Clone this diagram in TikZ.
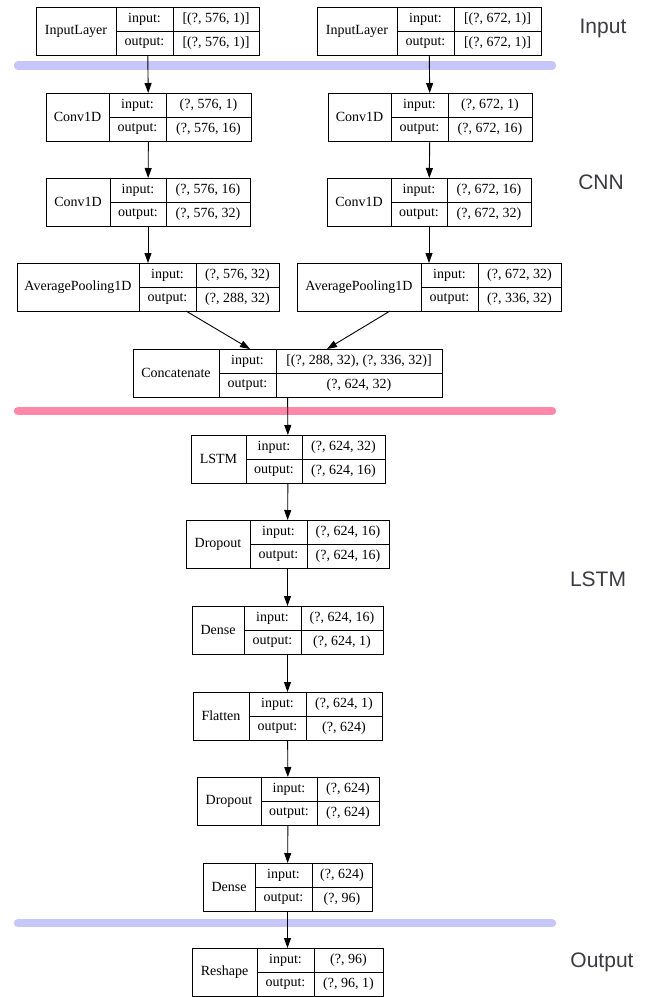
\documentclass[tikz,border=0pt]{standalone}
\usepackage{fontspec}
\setmainfont{Liberation Serif}
\newfontfamily\bandfont{Liberation Sans}
\usetikzlibrary{arrows.meta,calc}

\definecolor{barblue}{RGB}{198,198,250}
\definecolor{barpink}{RGB}{255,136,170}
\definecolor{bandgray}{RGB}{58,58,66}

\tikzset{
  box/.style={draw, line width=0.9pt, rectangle, inner sep=0pt, outer sep=0pt, minimum height=48pt},
  cell/.style={line width=0.9pt},
  txt/.style={inner sep=0pt, font=\fontsize{14}{16}\selectfont},
  flow/.style={line width=0.9pt, -{Triangle[length=10pt,width=7pt]}},
  bar/.style={line width=8.5pt, line cap=round},
  band/.style={inner sep=0pt, text=bandgray, font=\bandfont\fontsize{21}{25}\selectfont}
}

% #1 name, #2 left, #3 name|label divider, #4 label|value divider, #5 right,
% #6 top, #7 layer type, #8 input shape, #9 output shape
\newcommand\layerbox[9]{%
  \pgfmathsetmacro\lbW{#5-#2}%
  \node[box, minimum width=\lbW pt, anchor=north west] (#1) at (#2,#6) {};
  \draw[cell] (#3,#6) -- (#3,#6+48);
  \draw[cell] (#4,#6) -- (#4,#6+48);
  \draw[cell] (#3,#6+24) -- (#5,#6+24);
  \node[txt] (#1-name) at ({(#2+#3)/2},#6+24) {#7};
  \node[txt] (#1-il) at ({(#3+#4)/2},#6+12) {input:};
  \node[txt] (#1-ol) at ({(#3+#4)/2},#6+36) {output:};
  \node[txt] (#1-iv) at ({(#4+#5)/2},#6+12) {#8};
  \node[txt] (#1-ov) at ({(#4+#5)/2},#6+36) {#9};
}

\begin{document}
\begin{tikzpicture}[x=1pt, y=-1pt]
\useasboundingbox (0,0) rectangle (648,997);

% section separators
\coordinate (b1w) at (18,65.5);  \coordinate (b1e) at (552,65.5);
\coordinate (b2w) at (18,411);   \coordinate (b2e) at (552,411);
\coordinate (b3w) at (18,923);   \coordinate (b3e) at (552,923);
\draw[bar, barblue] (b1w) -- (b1e);
\draw[bar, barpink] (b2w) -- (b2e);
\draw[bar, barblue] (b3w) -- (b3e);

% section titles
\node[band] (t-input)  at (603,28)  {Input};
\node[band] (t-cnn)    at (601,182) {CNN};
\node[band] (t-lstm)   at (598,579) {LSTM};
\node[band] (t-output) at (602,962) {Output};

% left branch
\layerbox{inL}{36}{116}{173}{259}{7}{InputLayer}{[(?, 576, 1)]}{[(?, 576, 1)]}
\layerbox{c1L}{46}{109}{166}{251}{93}{Conv1D}{(?, 576, 1)}{(?, 576, 16)}
\layerbox{c2L}{46}{110}{166}{250}{178}{Conv1D}{(?, 576, 16)}{(?, 576, 32)}
\layerbox{apL}{17}{139}{196}{279}{263}{AveragePooling1D}{(?, 576, 32)}{(?, 288, 32)}

% right branch
\layerbox{inR}{317}{397}{454}{541}{7}{InputLayer}{[(?, 672, 1)]}{[(?, 672, 1)]}
\layerbox{c1R}{328}{391}{448}{532}{93}{Conv1D}{(?, 672, 1)}{(?, 672, 16)}
\layerbox{c2R}{327}{391}{447}{531}{178}{Conv1D}{(?, 672, 16)}{(?, 672, 32)}
\layerbox{apR}{297}{421}{478}{561}{263}{AveragePooling1D}{(?, 672, 32)}{(?, 336, 32)}

% merged trunk
\layerbox{cat}{133}{219}{276}{442}{349}{Concatenate}{[(?, 288, 32), (?, 336, 32)]}{(?, 624, 32)}
\layerbox{lstm}{191}{246}{302}{385}{435}{LSTM}{(?, 624, 32)}{(?, 624, 16)}
\layerbox{drop1}{186}{250}{307}{389}{520}{Dropout}{(?, 624, 16)}{(?, 624, 16)}
\layerbox{dense1}{192}{244}{301}{383}{606}{Dense}{(?, 624, 16)}{(?, 624, 1)}
\layerbox{flat}{193}{249}{306}{382}{692}{Flatten}{(?, 624, 1)}{(?, 624)}
\layerbox{drop2}{197}{261}{317}{379}{777}{Dropout}{(?, 624)}{(?, 624)}
\layerbox{dense2}{203}{255}{312}{372}{863}{Dense}{(?, 624)}{(?, 96)}
\layerbox{resh}{192}{257}{314}{383}{948}{Reshape}{(?, 96)}{(?, 96, 1)}

% connectors
\draw[flow] (inL) -- (c1L);
\draw[flow] (c1L) -- (c2L);
\draw[flow] (c2L) -- (apL);
\draw[flow] (inR) -- (c1R);
\draw[flow] (c1R) -- (c2R);
\draw[flow] (c2R) -- (apR);

\coordinate (apL-out) at (apL.south -| 186,0);
\coordinate (apR-out) at (apR.south -| 390,0);
\coordinate (cat-inL) at (cat.north -| 250,0);
\coordinate (cat-inR) at (cat.north -| 327,0);
\draw[flow] (apL-out) -- (cat-inL);
\draw[flow] (apR-out) -- (cat-inR);

\draw[flow] (cat) -- (lstm);
\draw[flow] (lstm) -- (drop1);
\draw[flow] (drop1) -- (dense1);
\draw[flow] (dense1) -- (flat);
\draw[flow] (flat) -- (drop2);
\draw[flow] (drop2) -- (dense2);
\draw[flow] (dense2) -- (resh);
\end{tikzpicture}
\end{document}
